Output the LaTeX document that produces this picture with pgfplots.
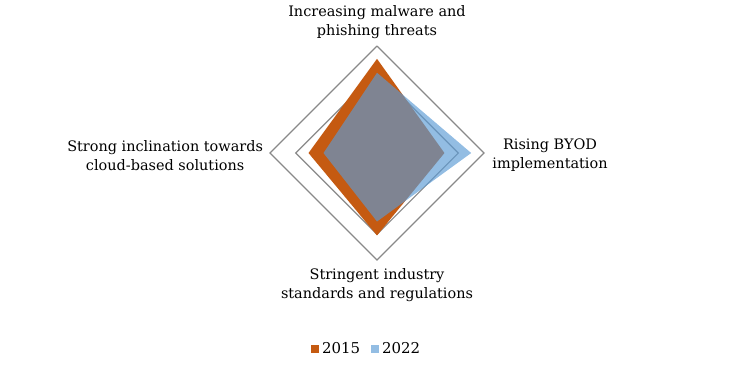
\documentclass[border=0pt]{standalone}
\usepackage{pgfplots}
\pgfplotsset{compat=1.18}
\usepackage{fontspec}
\setmainfont{DejaVu Serif}
\definecolor{c2015}{RGB}{197,90,17}
\definecolor{c2022}{RGB}{91,155,213}
\definecolor{gridc}{RGB}{137,137,137}
\begin{document}
\begin{tikzpicture}
\begin{axis}[
  scale only axis, width=737bp, height=377bp,
  xmin=-3.523, xmax=3.364, ymin=-2.093, ymax=1.430,
  hide axis, clip=false,
  legend style={at={(axis cs:-0.093,-1.832)}, anchor=center, draw=none, fill=none,
    legend columns=2, font=\fontsize{15}{17}\selectfont,
    nodes={inner xsep=3bp},
    /tikz/every even column/.append style={column sep=8bp}},
  legend image code/.code={\fill[#1] (0bp,-4bp) rectangle (8bp,4bp);},
]
\path (axis cs:-3.523,-2.093) rectangle (axis cs:3.364,1.430);
% grid rings (radial scale 0..1)
\addplot[gridc, line width=1.2pt, forget plot, data cs=polar] coordinates {(90,1) (0,1) (-90,1) (180,1) (90,1)};
\addplot[gridc, line width=1.2pt, forget plot, data cs=polar] coordinates {(90,0.76) (0,0.76) (-90,0.76) (180,0.76) (90,0.76)};
% 2015
\addplot[fill=c2015, draw=none, data cs=polar] coordinates {(90,0.88) (0,0.63) (-90,0.77) (180,0.64) (90,0.88)};
\addlegendentry{2015}
% 2022
\addplot[fill=c2022, fill opacity=0.66, draw=none, data cs=polar] coordinates {(90,0.75) (0,0.88) (-90,0.64) (180,0.50) (90,0.75)};
\addlegendentry{2022}
% category labels
\node[align=center, font=\fontsize{14.5}{19}\selectfont] at (axis cs:0,1.22) {Increasing malware and\\phishing threats};
\node[align=center, font=\fontsize{14.5}{19}\selectfont] at (axis cs:1.617,-0.02) {Rising BYOD\\implementation};
\node[align=center, font=\fontsize{14.5}{19}\selectfont] at (axis cs:-1.98,-0.02) {Strong inclination towards\\cloud-based solutions};
\node[align=center, font=\fontsize{14.5}{19}\selectfont] at (axis cs:0,-1.234) {Stringent industry\\standards and regulations};
\end{axis}
\end{tikzpicture}
\end{document}
